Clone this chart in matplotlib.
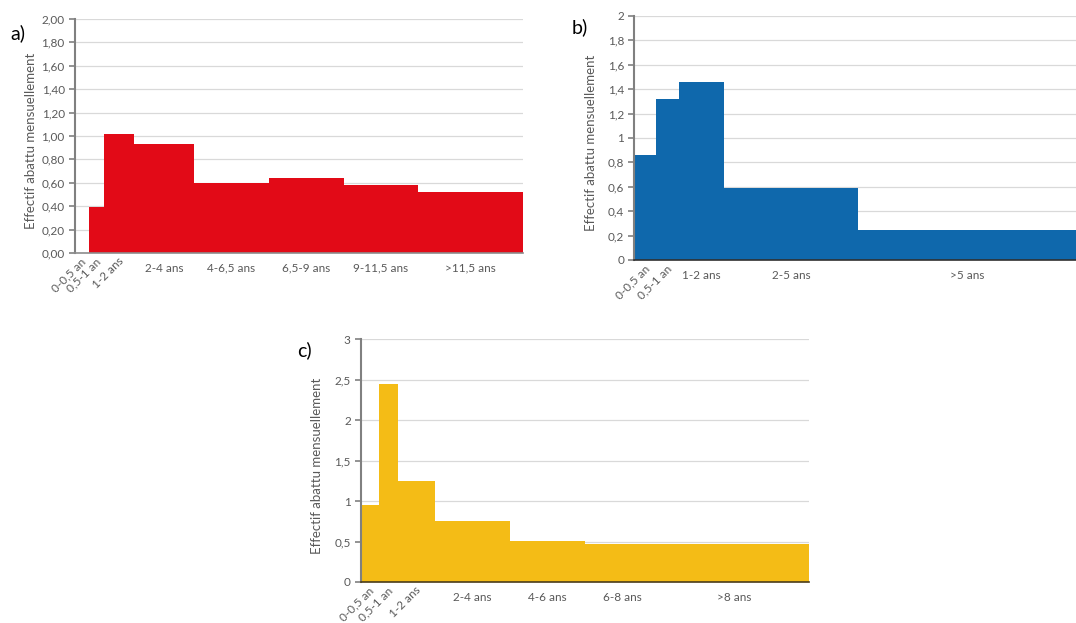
#!/usr/bin/env python3

import matplotlib
matplotlib.use("Agg")
import matplotlib.pyplot as plt
import matplotlib.transforms as mtransforms
import numpy as np

# Age classes (bin edges in years) and monthly harvest values per panel
edges_a = [0, 0.5, 1, 2, 4, 6.5, 9, 11.5, 15]
labels_a = ["0-0,5 an", "0,5-1 an", "1-2 ans", "2-4 ans", "4-6,5 ans",
            "6,5-9 ans", "9-11,5 ans", ">11,5 ans"]
values_a = [0.0, 0.39, 1.02, 0.93, 0.60, 0.64, 0.58, 0.52]
yticks_a = [0.0, 0.2, 0.4, 0.6, 0.8, 1.0, 1.2, 1.4, 1.6, 1.8, 2.0]
ytick_labels_a = ["0,00", "0,20", "0,40", "0,60", "0,80", "1,00",
                  "1,20", "1,40", "1,60", "1,80", "2,00"]

edges_b = [0, 0.5, 1, 2, 5, 9.85]
labels_b = ["0-0,5 an", "0,5-1 an", "1-2 ans", "2-5 ans", ">5 ans"]
values_b = [0.86, 1.32, 1.46, 0.59, 0.25]
yticks_b = [0, 0.2, 0.4, 0.6, 0.8, 1.0, 1.2, 1.4, 1.6, 1.8, 2.0]
ytick_labels_b = ["0", "0,2", "0,4", "0,6", "0,8", "1", "1,2", "1,4",
                  "1,6", "1,8", "2"]

edges_c = [0, 0.5, 1, 2, 4, 6, 8, 12]
labels_c = ["0-0,5 an", "0,5-1 an", "1-2 ans", "2-4 ans", "4-6 ans",
            "6-8 ans", ">8 ans"]
values_c = [0.95, 2.45, 1.25, 0.75, 0.51, 0.47, 0.47]
yticks_c = [0, 0.5, 1.0, 1.5, 2.0, 2.5, 3.0]
ytick_labels_c = ["0", "0,5", "1", "1,5", "2", "2,5", "3"]

FONT = ["Lato", "DejaVu Sans"]
GREY = "#595959"


def draw_panel(fig, rect, edges, values, labels, yticks, yticklabels,
               color, letter, letter_xy, n_rot, bottom_color):
    ax = fig.add_axes(rect)
    edges = np.array(edges, dtype=float)
    widths = np.diff(edges)
    ax.bar(edges[:-1], values, width=widths, align="edge", color=color,
           linewidth=0, zorder=2)

    ax.set_xlim(edges[0], edges[-1])
    ax.set_ylim(yticks[0], yticks[-1])
    ax.set_yticks(yticks)
    ax.set_yticklabels(yticklabels)
    ax.yaxis.grid(True, color="#d9d9d9", linewidth=0.9)
    ax.set_axisbelow(True)

    centers = edges[:-1] + widths / 2
    ax.set_xticks(centers)
    ax.set_xticklabels(labels)
    ax.tick_params(axis="x", length=0, pad=4, labelsize=8.5, labelcolor=GREY)
    ax.tick_params(axis="y", length=4, width=1.2, color="#808080", pad=3,
                   labelsize=8.5, labelcolor=GREY)
    for lab in ax.get_xticklabels() + ax.get_yticklabels():
        lab.set_family(FONT)

    # rotated labels for the short classes, the others pushed a bit lower
    up = mtransforms.ScaledTranslation(-1 / 72, 2 / 72, fig.dpi_scale_trans)
    down = mtransforms.ScaledTranslation(0, -3 / 72, fig.dpi_scale_trans)
    for i, lab in enumerate(ax.get_xticklabels()):
        if i < n_rot:
            lab.set_rotation(45)
            lab.set_ha("right")
            lab.set_rotation_mode("anchor")
            lab.set_transform(lab.get_transform() + up)
        else:
            lab.set_transform(lab.get_transform() + down)

    for side in ["top", "right"]:
        ax.spines[side].set_visible(False)
    ax.spines["left"].set_color("#808080")
    ax.spines["left"].set_linewidth(1.5)
    ax.spines["bottom"].set_color(bottom_color)
    ax.spines["bottom"].set_linewidth(1.2)
    ax.spines["left"].set_zorder(3)
    ax.spines["bottom"].set_zorder(3)

    ax.set_ylabel("Effectif abattu mensuellement", fontsize=9.5, color=GREY,
                  family=FONT)
    ax.yaxis.set_label_coords(-0.083, 0.48)

    fig.text(letter_xy[0] / 1076, 1 - letter_xy[1] / 623, letter,
             fontsize=14, ha="center", va="center", family=FONT)
    return ax


def main():
    fig = plt.figure(figsize=(10.76, 6.23), dpi=100)

    draw_panel(fig, [74.5 / 1076, 1 - 253 / 623, 448.5 / 1076, 234 / 623],
               edges_a, values_a, labels_a, yticks_a, ytick_labels_a,
               "#E20A17", "a)", (18, 33), 3, "#8c8c8c")
    draw_panel(fig, [634 / 1076, 1 - 260 / 623, 442 / 1076, 244 / 623],
               edges_b, values_b, labels_b, yticks_b, ytick_labels_b,
               "#0F68AC", "b)", (580, 27), 2, "#303030")
    draw_panel(fig, [360.5 / 1076, 1 - 582 / 623, 448.5 / 1076, 243 / 623],
               edges_c, values_c, labels_c, yticks_c, ytick_labels_c,
               "#F4BC16", "c)", (304, 350), 3, "#4a3c1a")

    fig.savefig("out.png", dpi=100)


if __name__ == "__main__":
    main()
